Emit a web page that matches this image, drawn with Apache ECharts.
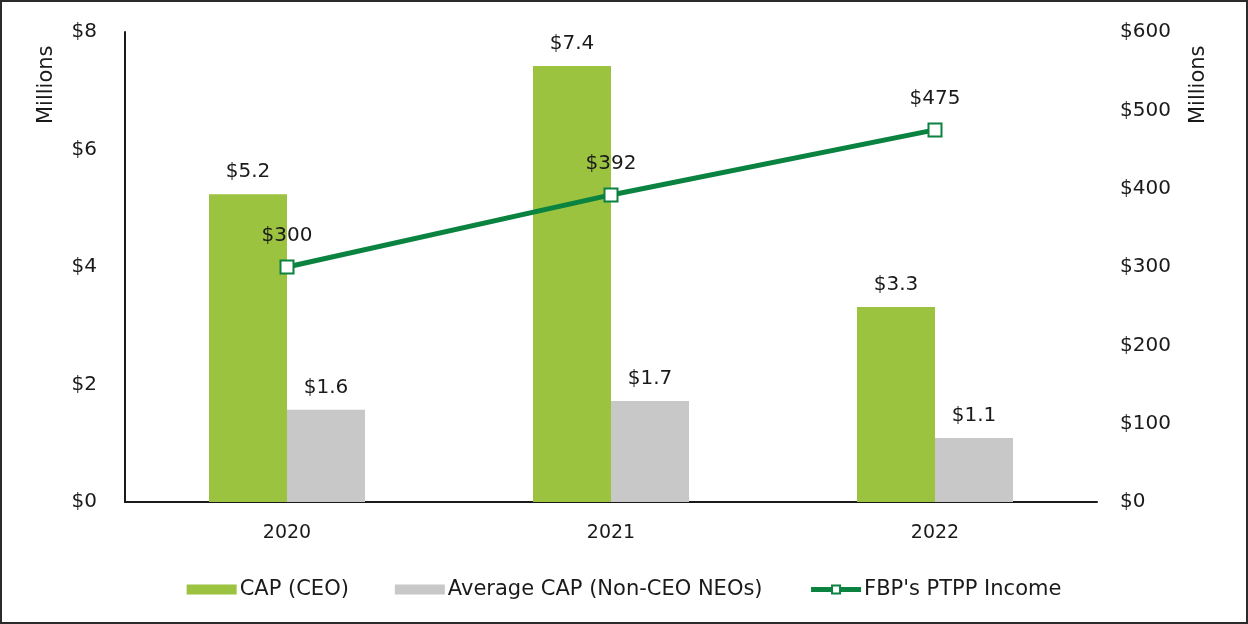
<!DOCTYPE html>
<html>
<head>
<meta charset="utf-8">
<script src="https://cdn.jsdelivr.net/npm/echarts@6/dist/echarts.min.js"></script>
<style>
html,body{margin:0;padding:0;background:#fff;}
#wrap{width:1248px;height:624px;box-sizing:border-box;border:2px solid #2b2b2b;position:relative;}
#chart{position:absolute;left:-2px;top:-2px;width:1248px;height:624px;}
</style>
</head>
<body>
<div id="wrap"><div id="chart"></div></div>
<script>
var years = ['2020', '2021', '2022'];
var capCEO = [5.24, 7.42, 3.32];
var capNEO = [1.57, 1.72, 1.09];
var ptppIncome = [300, 392, 475];
var leftTicks = ['$0', '$2', '$4', '$6', '$8'];
var rightTicks = ['$0', '$100', '$200', '$300', '$400', '$500', '$600'];

var FONT = '"DejaVu Sans", sans-serif';
var GREEN_LINE = '#0A8240';
var chart = echarts.init(document.getElementById('chart'));
chart.setOption({
  animation: false,
  textStyle: { fontFamily: FONT, color: '#1a1a1a' },
  grid: { left: 125, right: 151, top: 32, bottom: 122, containLabel: false },
  legend: {
    top: 574,
    left: 'center',
    itemWidth: 50,
    itemHeight: 10,
    itemGap: 46,
    textStyle: { fontFamily: FONT, fontSize: 21, color: '#1a1a1a', padding: [0, 0, 0, -2] },
    data: [
      { name: 'CAP (CEO)', icon: 'rect' },
      { name: 'Average CAP (Non-CEO NEOs)', icon: 'rect' },
      { name: "FBP's PTPP Income",
        lineStyle: { color: GREEN_LINE, width: 5 },
        itemStyle: { color: '#ffffff', borderColor: GREEN_LINE, borderWidth: 2 } }
    ]
  },
  xAxis: {
    type: 'category',
    data: years,
    axisLine: { lineStyle: { color: '#1a1a1a', width: 2 } },
    axisTick: { show: false },
    axisLabel: { fontFamily: FONT, fontSize: 19, color: '#1a1a1a', margin: 22 }
  },
  yAxis: [
    {
      type: 'value', min: 0, max: 8, interval: 2,
      splitLine: { show: false },
      axisLine: { show: true, lineStyle: { color: '#1a1a1a', width: 2 } },
      axisTick: { show: false },
      axisLabel: {
        fontFamily: FONT, fontSize: 20, color: '#1a1a1a', margin: 28,
        formatter: function (v) { return leftTicks[Math.round(v / 2)]; }
      }
    },
    {
      type: 'value', min: 0, max: 600, interval: 100,
      splitLine: { show: false },
      axisLine: { show: false },
      axisTick: { show: false },
      axisLabel: {
        fontFamily: FONT, fontSize: 20, color: '#1a1a1a', margin: 23,
        formatter: function (v) { return rightTicks[Math.round(v / 100)]; }
      }
    }
  ],
  graphic: [
    { type: 'text', x: 36, y: 124, rotation: Math.PI / 2,
      style: { text: 'Millions', font: '21px "DejaVu Sans", sans-serif', fill: '#1a1a1a' } },
    { type: 'text', x: 1188, y: 124, rotation: Math.PI / 2,
      style: { text: 'Millions', font: '21px "DejaVu Sans", sans-serif', fill: '#1a1a1a' } }
  ],
  series: [
    {
      name: 'CAP (CEO)', type: 'bar', data: capCEO,
      barWidth: 78, barGap: '0%',
      itemStyle: { color: '#9BC33F' },
      label: { show: true, position: 'top', distance: 12, fontFamily: FONT, fontSize: 20, color: '#1a1a1a',
        formatter: function (p) { return '$' + p.value.toFixed(1); } }
    },
    {
      name: 'Average CAP (Non-CEO NEOs)', type: 'bar', data: capNEO,
      barWidth: 78,
      itemStyle: { color: '#C8C8C8' },
      label: { show: true, position: 'top', distance: 12, fontFamily: FONT, fontSize: 20, color: '#1a1a1a',
        formatter: function (p) { return '$' + p.value.toFixed(1); } }
    },
    {
      name: "FBP's PTPP Income", type: 'line', yAxisIndex: 1, data: ptppIncome,
      symbol: 'rect', symbolSize: 13,
      lineStyle: { color: GREEN_LINE, width: 5 },
      itemStyle: { color: '#ffffff', borderColor: GREEN_LINE, borderWidth: 2 },
      label: { show: true, position: 'top', distance: 14, fontFamily: FONT, fontSize: 20, color: '#1a1a1a',
        formatter: function (p) { return '$' + p.value; } },
      z: 5
    }
  ]
});
</script>
</body>
</html>
